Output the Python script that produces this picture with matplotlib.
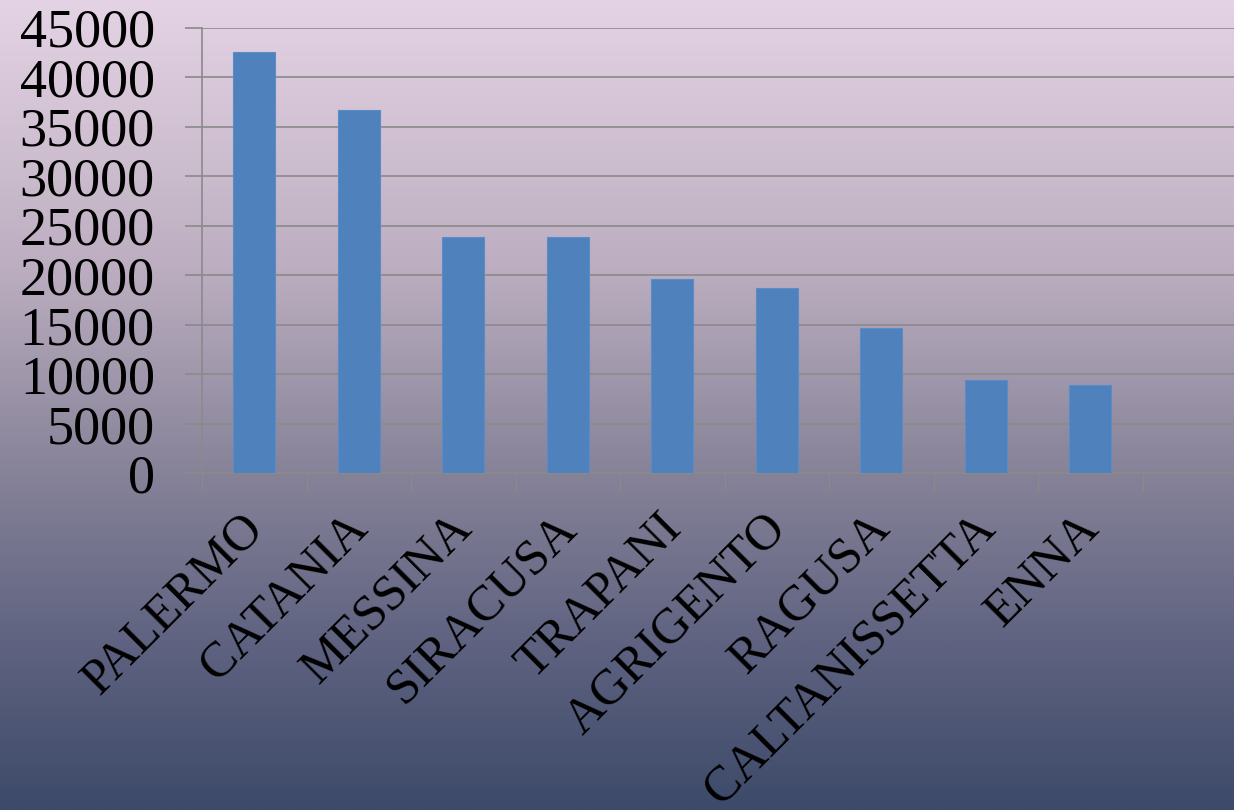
import numpy as np
import matplotlib
matplotlib.use("Agg")
import matplotlib.pyplot as plt
from matplotlib.colors import LinearSegmentedColormap
from matplotlib.ticker import FixedLocator

# dati: popolazione per provincia
provinces = ["PALERMO", "CATANIA", "MESSINA", "SIRACUSA", "TRAPANI",
             "AGRIGENTO", "RAGUSA", "CALTANISSETTA", "ENNA"]
values = [42500, 36650, 23830, 23830, 19650, 18750, 14700, 9420, 8890]
y_ticks = [0, 5000, 10000, 15000, 20000, 25000, 30000, 35000, 40000, 45000]
n_slots = 10  # l'asse ha uno slot vuoto in fondo

plt.rcParams['font.family'] = ['Liberation Serif', 'DejaVu Serif']

fig = plt.figure(figsize=(12.34, 8.1), dpi=100)

# sfondo sfumato
bg = fig.add_axes([0, 0, 1, 1])
cmap = LinearSegmentedColormap.from_list("sfondo", [
    (0.0, "#e4d3e5"),
    (0.33, "#bcaec0"),
    (0.58, "#878399"),
    (0.8, "#5e6280"),
    (1.0, "#3d4a69"),
])
grad = np.linspace(0, 1, 512).reshape(-1, 1)
bg.imshow(grad, aspect='auto', cmap=cmap, extent=[0, 1, 0, 1], origin='upper')
bg.axis('off')

ax = fig.add_axes([0.1637, 0.4157, 0.8469, 0.5501])
ax.patch.set_alpha(0)

x = np.arange(len(provinces))
ax.bar(x, values, width=0.4, color="#4f81bd", edgecolor="#5b8cc8", linewidth=0.8, zorder=3)

ax.set_xlim(-0.5, n_slots - 0.5)
ax.set_ylim(0, 45000)
ax.set_yticks(y_ticks)
ax.set_yticklabels([str(v) for v in y_ticks], fontsize=39)
ax.grid(axis='y', color="#8a8a8a", linewidth=1.2, zorder=1)

ax.xaxis.set_major_locator(FixedLocator(np.arange(-0.5, n_slots, 1.0)))
ax.set_xticklabels([])
ax.tick_params(axis='x', direction='out', length=12, width=1, color="#8a8a8a")
ax.tick_params(axis='y', direction='out', length=12, width=1.2, color="#8a8a8a", pad=22)

for side in ['top', 'right']:
    ax.spines[side].set_visible(False)
for side in ['left', 'bottom']:
    ax.spines[side].set_color("#8a8a8a")
    ax.spines[side].set_linewidth(1.2)

trans = ax.get_xaxis_transform()
for i, name in enumerate(provinces):
    ax.text(i - 0.14, -0.07, name, transform=trans, rotation=45,
            rotation_mode='anchor', ha='right', va='top', fontsize=36)

fig.savefig("out.png", dpi=100)
